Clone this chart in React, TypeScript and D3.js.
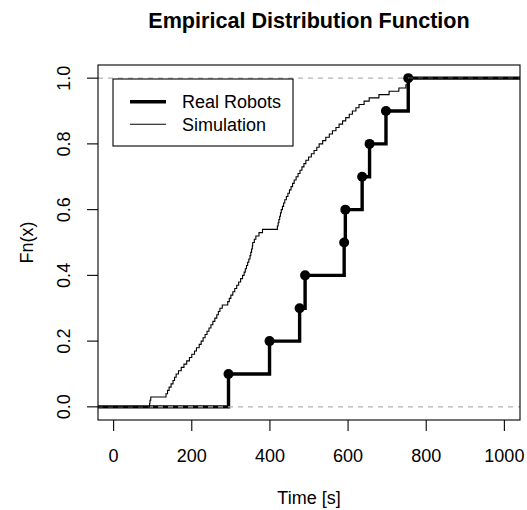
import React from "react";
import * as d3 from "d3";

const realTimes: number[] = [294, 399, 476, 490, 590, 593, 636, 655, 697, 754];
const simTimes: number[] = [
  92, 93, 95, 134, 138, 142, 147, 152, 156, 160,
  166, 173, 180, 187, 194, 200, 207, 212, 219, 224,
  229, 234, 239, 244, 249, 254, 259, 264, 268, 272,
  278, 292, 296, 300, 305, 310, 315, 320, 325, 330,
  334, 337, 340, 343, 346, 349, 351, 353, 355, 356,
  360, 364, 372, 381, 419, 421, 423, 425, 427, 429,
  432, 435, 438, 442, 446, 450, 454, 458, 462, 467,
  472, 477, 482, 487, 492, 499, 506, 513, 520, 526,
  535, 543, 552, 560, 569, 577, 586, 594, 603, 611,
  620, 628, 641, 654, 679, 705, 730, 748, 752, 756,
];
const xTicks: number[] = [0, 200, 400, 600, 800, 1000];
const yTicks: number[] = [0, 0.2, 0.4, 0.6, 0.8, 1.0];
const legendLabels: string[] = ["Real Robots", "Simulation"];

const W = 527;
const H = 510;
const L = 98, R = 520, T = 65, B = 420;
const FONT = "'Liberation Sans', Arial, Helvetica, sans-serif";
const FS = 18;

function ecdfPoints(vals: number[]) {
  const s = [...vals].sort((a, b) => a - b);
  const n = s.length;
  return s.map((v, i) => ({ x: v, y: (i + 1) / n }));
}

function stepPath(vals: number[], x: d3.ScaleLinear<number, number>, y: d3.ScaleLinear<number, number>) {
  const pts = ecdfPoints(vals);
  const line = d3.line<[number, number]>().x(d => x(d[0])).y(d => y(d[1])).curve(d3.curveStepAfter);
  const [d0, d1] = x.domain();
  const data: [number, number][] = [[d0, 0], ...pts.map(p => [p.x, p.y] as [number, number]), [d1, 1]];
  return line(data) || "";
}

export default function App() {
  const x = d3.scaleLinear().domain([-40, 1040]).range([L, R]);
  const y = d3.scaleLinear().domain([-0.04, 1.04]).range([B, T]);
  const realPts = ecdfPoints(realTimes);

  return (
    <svg width={W} height={H} style={{ display: "block", position: "absolute", left: 0, top: 0 }} fontFamily={FONT}>
      <rect width={W} height={H} fill="#fff" />
      <defs>
        <clipPath id="plotclip">
          <rect x={L} y={T} width={R - L} height={B - T} />
        </clipPath>
      </defs>
      <text x={(L + R) / 2} y={28} textAnchor="middle" fontWeight="bold" fontSize={21.6}>
        Empirical Distribution Function
      </text>
      <g clipPath="url(#plotclip)">
        <path d={stepPath(realTimes, x, y)} fill="none" stroke="#000" strokeWidth={3.4} />
        {realPts.map((p, i) => (
          <circle key={i} cx={x(p.x)} cy={y(p.y)} r={5} fill="#000" />
        ))}
        {[0, 1].map(v => (
          <line key={v} x1={L} x2={R} y1={y(v)} y2={y(v)} stroke="#b3b3b3" strokeWidth={1.1} strokeDasharray="5,5" />
        ))}
        <path d={stepPath(simTimes, x, y)} fill="none" stroke="#000" strokeWidth={1.1} />
      </g>
      <rect x={L} y={T} width={R - L} height={B - T} fill="none" stroke="#000" strokeWidth={1.1} />
      {xTicks.map(t => (
        <g key={t}>
          <line x1={x(t)} x2={x(t)} y1={B} y2={B + 11} stroke="#000" strokeWidth={1.1} />
          <text x={x(t)} y={462} textAnchor="middle" fontSize={FS}>{t}</text>
        </g>
      ))}
      {yTicks.map(t => (
        <g key={t}>
          <line x1={L - 11} x2={L} y1={y(t)} y2={y(t)} stroke="#000" strokeWidth={1.1} />
          <text transform={`translate(70,${y(t)}) rotate(-90)`} textAnchor="middle" fontSize={FS}>{t.toFixed(1)}</text>
        </g>
      ))}
      <text x={(L + R) / 2} y={504} textAnchor="middle" fontSize={FS}>Time [s]</text>
      <text transform={`translate(33,${(T + B) / 2}) rotate(-90)`} textAnchor="middle" fontSize={FS}>Fn(x)</text>
      <g>
        <rect x={113} y={79} width={180} height={67} fill="#fff" stroke="#000" strokeWidth={1.1} />
        <line x1={130} x2={166} y1={101.7} y2={101.7} stroke="#000" strokeWidth={3.4} />
        <line x1={130} x2={166} y1={124.3} y2={124.3} stroke="#000" strokeWidth={1.1} />
        <text x={182} y={108} fontSize={FS}>{legendLabels[0]}</text>
        <text x={182} y={130.6} fontSize={FS}>{legendLabels[1]}</text>
      </g>
    </svg>
  );
}
